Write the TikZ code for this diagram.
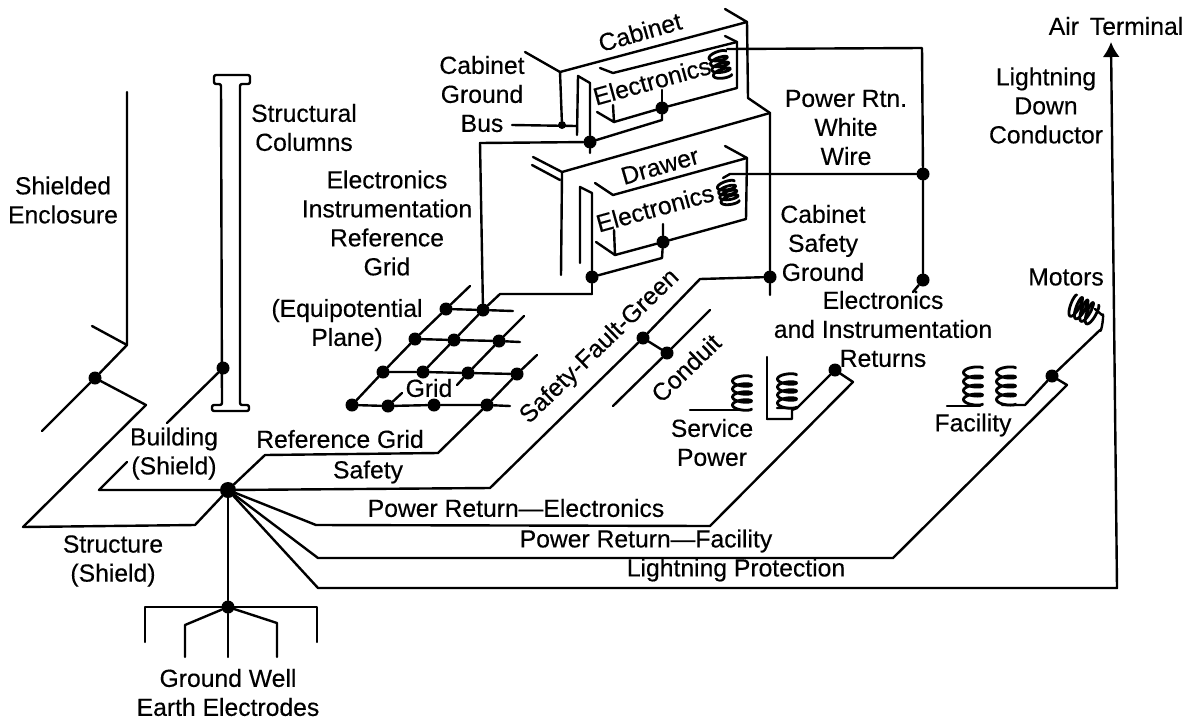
\documentclass[tikz,border=0pt]{standalone}
\usepackage{fontspec}
\setmainfont[FakeBold=0.35]{Liberation Sans}
\usetikzlibrary{arrows.meta}
\newcommand{\mycoil}[7]{% cx cy a c pitch turns rot
  \draw[wire,line width=2.8pt,shift={(#1,#2)},rotate=#7] plot[domain=0:{360*#6},samples={30*#6},smooth]
    ({#3*cos(\x)},{#5*#6/2-#5*\x/360+#4*sin(\x)});}
\begin{document}
\begin{tikzpicture}[x=1pt,y=-1pt,
  wire/.style={line width=2.4pt,line join=round,line cap=round,draw=black},
  dot/.style={circle,fill=black,inner sep=0pt,minimum size=13pt},
  bigdot/.style={dot,minimum size=16pt},
  tinydot/.style={dot,minimum size=8pt},
  lab/.style={font=\fontsize{24.7}{29}\selectfont,align=center,inner sep=0pt,text=black}]
\useasboundingbox (0,0) rectangle (1193,723);
% ---------- junctions
\node[bigdot] (main) at (228,490) {};
\node[dot] (gnd) at (228,607) {};
\node[dot] (encl) at (95,378) {};
\node[dot] (col) at (223,368) {};
\node[dot] (cabA) at (590,142) {};
\node[dot] (cabE) at (662,108) {};
\node[tinydot] (cabS) at (562,125) {};
\node[dot] (drwA) at (592,277) {};
\node[dot] (drwE) at (663,242) {};
\node[dot] (safG) at (770,277) {};
\node[dot] (pw) at (923,174) {};
\node[dot] (ret) at (923,280) {};
\node[dot] (condA) at (643,338) {};
\node[dot] (condB) at (667,353) {};
\node[dot] (sp) at (835,370) {};
\node[dot] (fac) at (1052,376) {};
% grid
\node[dot] (g41) at (446,309) {};
\node[dot] (g42) at (483,310) {};
\node[dot] (g31) at (415,339) {};
\node[dot] (g32) at (454,340) {};
\node[dot] (g33) at (499,341) {};
\node[dot] (g21) at (383,372) {};
\node[dot] (g22) at (423,372) {};
\node[dot] (g23) at (468,373) {};
\node[dot] (g24) at (517,374) {};
\node[dot] (g11) at (352,405) {};
\node[dot] (g12) at (388,406) {};
\node[dot] (g13) at (434,405) {};
\node[dot] (g14) at (487,405) {};
% ---------- bends and free ends
\foreach \n/\x/\y in {
 sA/127/92, sB/127/345, sC/92/326, sD/42/431, stA/146/405, stB/23/527, stC/195/525,
 buA/99/490, buB/127/462, buC/167/423,
 rgA/265/455, rgB/438/453, rgC/537/355,
 saA/490/488, saB/700/279, saC/592/294, saE/500/294,
 cnA/710/310, cnB/613/406,
 peA/316/525, peB/710/526, peC/853/382, peD/797/408, peE/792/410, peF/792/419, peG/767/419, peH/767/357,
 pfA/318/558, pfB/893/558, pfC/1067/385, pfD/1025/405, pfE/1002/405,
 moA/1100/330, moB/1102/315, moC/1095/309,
 lpA/318/588, lpB/1117/588, lpC/1111/42,
 gaL/145/607, gaLb/145/642, gaR/317/607, gaRb/317/642, giL/185/625, giLb/185/657, giR/277/623, giRb/277/657, gcb/228/657,
 cA/525/52, cB/560/72, cC/747/22, cD/725/9, cE/748/98, cF/770/113, cG/770/295, cH/560/122,
 bsF/512/125, bsT/576/126, buTa/577/135, buTb/578/76, buTc/590/83, buTd/590/153,
 eA/737/42, eB/725/36, eC/613/73, eD/600/68, eE/737/88, eF/662/90, eG/662/120, eH/614/122, eI/597/112, eJ/613/105,
 rA/480/143, dA/533/157, dB/562/172, dC/532/165, dD/560/180, dE/561/275,
 dwA/725/146, dwB/747/158, dwC/613/195, dwD/595/183, dwE/746/219,
 dbA/580/263, dbB/580/187, dbC/592/193,
 deA/663/224, deB/662/258, deC/615/255, deD/614/230, deE/596/242,
 pA/727/49, pB/922/48, pC/730/174, pD/723/178, pE/913/292,
 g4e/513/311, g3e/520/342, g1e/510/406, d1e/470/286, d3e/524/316, d3s/457/385, d2s/402/393,
 fcA/947/406, fcB/980/406, scA/690/410, scB/750/410, scC/777/408}
 {\coordinate (\n) at (\x,\y);}
% ---------- shielded enclosure and column
\draw[wire] (sA) -- (sB) -- (sC);
\draw[wire] (sB) -- (encl) -- (sD);
\draw[wire] (encl) -- (stA) -- (stB) -- (stC) -- (main);
\draw[wire] (main) -- (buA) -- (buB);
\draw[wire] (buC) -- (col);
\draw[wire,rounded corners=2pt] (221,84) -- (214,84) -- (214,75) -- (250,75) -- (250,84) -- (240,84) -- (240,405) -- (249,405) -- (249,411) -- (212,411) -- (212,405) -- (222,405) -- cycle;
% ---------- ground
\draw[wire] (main) -- (gnd) -- (gcb);
\draw[wire] (gaLb) -- (gaL) -- (gaR) -- (gaRb);
\draw[wire] (gnd) -- (giL) -- (giLb);
\draw[wire] (gnd) -- (giR) -- (giRb);
% ---------- runs from main node
\draw[wire] (main) -- (rgA) -- (rgB) -- (g14) -- (g24) -- (rgC);
\draw[wire] (main) -- (saA) -- (condA) -- (saB) -- (safG);
\draw[wire] (drwA) -- (saC);
\draw[wire] (saC) -- (saE) -- (g42);
\draw[wire] (condA) -- (condB);
\draw[wire] (cnA) -- (condB) -- (cnB);
\draw[wire] (main) -- (peA) -- (peB) -- (peC) -- (sp) -- (peD) -- (scC);
\draw[wire] (peD) -- (peE) -- (peF) -- (peG);
\draw[wire] (peG) -- (peH);
\draw[wire] (main) -- (pfA) -- (pfB) -- (pfC) -- (fac) -- (pfD) -- (pfE);
\draw[wire] (fac) -- (moA) to[out=-80,in=60] (moB) -- (moC);
\draw[wire,-{Latex[length=15pt,width=17pt]}] (main) -- (lpA) -- (lpB) -- (lpC);
% ---------- grid
\draw[wire] (g41) -- (g42) -- (g4e);
\draw[wire] (g31) -- (g32) -- (g33) -- (g3e);
\draw[wire] (g21) -- (g22) -- (g23) -- (g24);
\draw[wire] (g11) -- (g12) -- (g13) -- (g14) -- (g1e);
\draw[wire] (g11) -- (g21) -- (g31) -- (g41) -- (d1e);
\draw[wire] (g12) -- (d2s);
\draw[wire] (g22) -- (g32) -- (g42);
\draw[wire] (d3s) -- (g23) -- (g33) -- (d3e);
% ---------- cabinet
\draw[wire] (cA) -- (cB) -- (cC) -- (cD);
\draw[wire] (cC) -- (cE) -- (cF) -- (safG) -- (cG);
\draw[wire] (cB) -- (cabS);
\draw[wire] (bsF) -- (bsT);
\draw[wire] (buTa) -- (buTb) -- (buTc) -- (cabA) -- (buTd);
\draw[wire] (cabA) -- (eG) -- (cabE) -- (eE) -- (eA) -- (eB);
\draw[wire] (eA) -- (eC) -- (eD);
\draw[wire] (eF) -- (cabE);
\draw[wire] (eJ) -- (eH) -- (eI);
\draw[wire] (eH) -- (cabE);
\draw[wire] (cabA) -- (rA) -- (g42);
\draw[wire] (cF) -- (dB) -- (dA);
\draw[wire] (dC) -- (dD);
\draw[wire] (dB) -- (dE);
% ---------- drawer
\draw[wire] (dwA) -- (dwB) -- (dwC) -- (dwD);
\draw[wire] (dwB) -- (dwE) -- (drwE) -- (deB) -- (drwA);
\draw[wire] (dbA) -- (dbB) -- (dbC) -- (drwA);
\draw[wire] (deA) -- (drwE) -- (deC) -- (deD);
\draw[wire] (deC) -- (deE);
% ---------- power return white wire
\draw[wire] (pA) -- (pB) -- (pw) -- (ret) -- (pE);
\draw[wire] (pD) -- (pC) -- (pw);
% ---------- coils
\mycoil{720}{65}{9}{3}{6}{4}{14}
\mycoil{728}{193}{9}{3}{5}{4}{14}
\mycoil{742}{393}{9.5}{3}{8}{4}{0}
\mycoil{787}{391}{9.5}{3}{8}{4}{0}
\mycoil{973}{386}{9.5}{3}{9}{4}{0}
\mycoil{1006}{386}{9.5}{3}{9}{4}{0}
\mycoil{1083}{310}{11}{3}{6}{4}{65}
\draw[wire] (scA) -- (scB);
\draw[wire] (fcA) -- (fcB);
% ---------- labels
\node[lab] (tShield) at (63,200) {Shielded\\Enclosure};
\node[lab] (tCol) at (304,127.5) {Structural\\Columns};
\node[lab] (tEIR) at (387,223) {Electronics\\Instrumentation\\Reference\\Grid};
\node[lab] (tEq) at (347,325) {(Equipotential\\Plane)};
\node[lab] (tCGB) at (482,94) {Cabinet\\Ground\\Bus};
\node[lab,rotate=16] (tCab) at (640,32) {Cabinet};
\node[lab,rotate=15.5] (tEl1) at (652,81) {Electronics};
\node[lab,rotate=16] (tDr) at (660,166) {Drawer};
\node[lab,rotate=15.4] (tEl2) at (655,208) {Electronics};
\node[lab] (tPR) at (846,127.5) {Power Rtn.\\White\\Wire};
\node[lab] (tCSG) at (823,243) {Cabinet\\Safety\\Ground};
\node[lab] (tEIRet) at (883,329) {Electronics\\and Instrumentation\\Returns};
\node[lab] (tMot) at (1066,277) {Motors};
\node[lab] (tFac) at (973,425) {Facility};
\node[lab] (tSvc) at (712,442.5) {Service\\Power};
\node[lab,rotate=44] (tCon) at (686,368) {Conduit};
\node[lab,rotate=44] (tSFG) at (600,347) {Safety-Fault-Green};
\node[lab] (tGrid) at (429,388) {Grid};
\node[lab] (tRG) at (340,439) {Reference Grid};
\node[lab] (tSaf) at (368,472) {Safety};
\node[lab] (tPRE) at (516,508) {Power Return---Electronics};
\node[lab] (tPRF) at (646,541) {Power Return---Facility};
\node[lab] (tLP) at (736,570) {Lightning Protection};
\node[lab] (tBu) at (174,453.5) {Building\\(Shield)};
\node[lab] (tSt) at (113,561) {Structure\\(Shield)};
\node[lab] (tGW) at (228,692.5) {Ground Well\\Earth Electrodes};
\node[lab] (tAir) at (1116,26) {Air\ \,Terminal};
\node[lab] (tLD) at (1046,105.5) {Lightning\\Down\\Conductor};
\end{tikzpicture}
\end{document}
